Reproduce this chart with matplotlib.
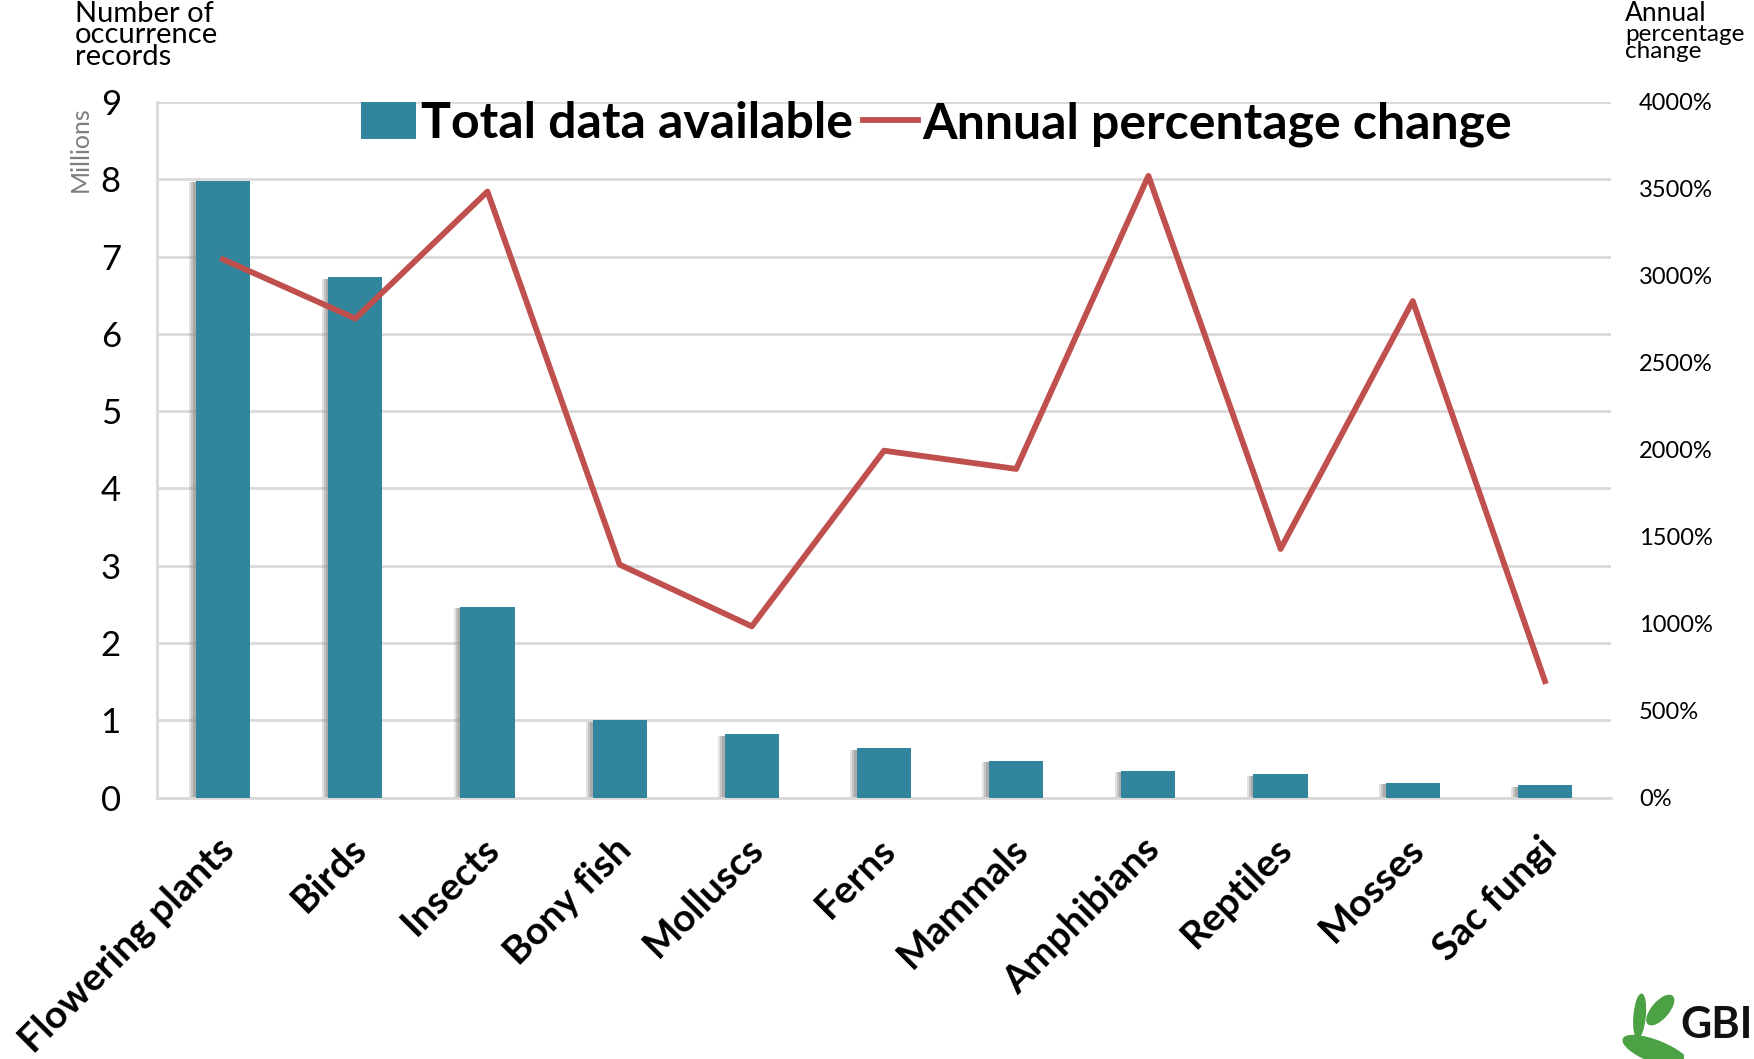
import numpy as np
import matplotlib.pyplot as plt
from matplotlib.patches import Patch, Ellipse
from matplotlib.lines import Line2D

# Occurrence records per group (millions) and annual percentage change
groups = ['Flowering plants', 'Birds', 'Insects', 'Bony fish', 'Molluscs', 'Ferns',
          'Mammals', 'Amphibians', 'Reptiles', 'Mosses', 'Sac fungi']
records_m = [7.98, 6.73, 2.47, 1.00, 0.82, 0.64, 0.48, 0.35, 0.30, 0.19, 0.16]
pct_change = [3095, 2755, 3485, 1340, 985, 1995, 1890, 3575, 1430, 2855, 670]

left_ticks = list(range(0, 10))
right_ticks = list(range(0, 4001, 500))

bar_color = '#31859C'
line_color = '#C0504D'
grid_color = '#D9D9D9'

plt.rcParams['font.family'] = ['Lato', 'DejaVu Sans']

fig = plt.figure(figsize=(17.54, 10.59), dpi=100)
ax = fig.add_axes([0.0895, 0.2468, 0.829, 0.6569])
x = np.arange(len(groups))

# soft shadow behind bars
for off, a in [(0.05, 0.25), (0.035, 0.35), (0.02, 0.45)]:
    ax.bar(x - off, np.array(records_m) - 0.02, width=0.41, color='#8c8c8c', alpha=a,
           zorder=2, linewidth=0)
ax.bar(x, records_m, width=0.41, color=bar_color, zorder=3, linewidth=0)

ax.set_xlim(-0.5, len(groups) - 0.5)
ax.set_ylim(0, 9)
ax.set_yticks(left_ticks)
ax.set_yticklabels([str(t) for t in left_ticks], fontsize=25)
ax.yaxis.grid(True, color=grid_color, linewidth=2, zorder=0)
ax.set_axisbelow(True)
for s in ['top', 'right']:
    ax.spines[s].set_visible(False)
ax.spines['left'].set_color(grid_color)
ax.spines['left'].set_linewidth(2)
ax.spines['bottom'].set_color(grid_color)
ax.spines['bottom'].set_linewidth(2)
ax.tick_params(axis='y', length=0, pad=26)
ax.tick_params(axis='x', length=0, pad=24)
ax.set_xticks(x - 0.05)
ax.set_xticklabels(groups, rotation=45, ha='right', va='top', rotation_mode='anchor',
                   fontsize=28, fontweight='bold')

ax2 = ax.twinx()
ax2.plot(x, pct_change, color=line_color, linewidth=4.2, zorder=5)
ax2.set_ylim(0, 4000)
ax2.set_yticks(right_ticks)
ax2.set_yticklabels([f'{t}%' for t in right_ticks], fontsize=17)
ax2.tick_params(axis='y', length=0, pad=20)
for s in ['top', 'right', 'left', 'bottom']:
    ax2.spines[s].set_visible(False)

# legend
handles = [Patch(facecolor=bar_color, edgecolor='none'),
           Line2D([0], [0], color=line_color, linewidth=4.2)]
fig.legend(handles, ['Total data available', 'Annual percentage change'],
           loc='center', bbox_to_anchor=(0.534, 0.883), ncol=2, frameon=False,
           prop={'family': 'Lato', 'weight': 'bold', 'size': 36},
           handlelength=1.1, handleheight=0.75, handletextpad=0.1, columnspacing=0.2)

# axis titles
fig.text(0.0425, 0.999, 'Number of\noccurrence\nrecords', fontsize=21, va='top',
         ha='left', linespacing=0.78)
fig.text(0.0455, 0.859, 'Millions', fontsize=18, color='#7f7f7f', rotation=90,
         ha='center', va='center')
fig.text(0.9265, 0.999, 'Annual', fontsize=19, va='top', ha='left')
fig.text(0.9265, 0.977, 'percentage\nchange', fontsize=17.5, va='top', ha='left',
         linespacing=0.75)

# GBIF mark
fig.text(0.958, 0.032, 'GBIF', fontsize=31, fontweight='bold', ha='left', va='center',
         color='#111111')
la = fig.add_axes([0.918, 0.0, 0.042, 0.068])
la.set_xlim(0, 1)
la.set_ylim(0, 1)
la.axis('off')
green = '#4CA144'
la.add_patch(Ellipse((0.4, 0.6), 0.15, 0.6, angle=-5, color=green))
la.add_patch(Ellipse((0.68, 0.68), 0.22, 0.5, angle=-40, color=green))
la.add_patch(Ellipse((0.62, 0.1), 0.95, 0.3, angle=-22, color=green))

fig.savefig('out.png', dpi=100)
